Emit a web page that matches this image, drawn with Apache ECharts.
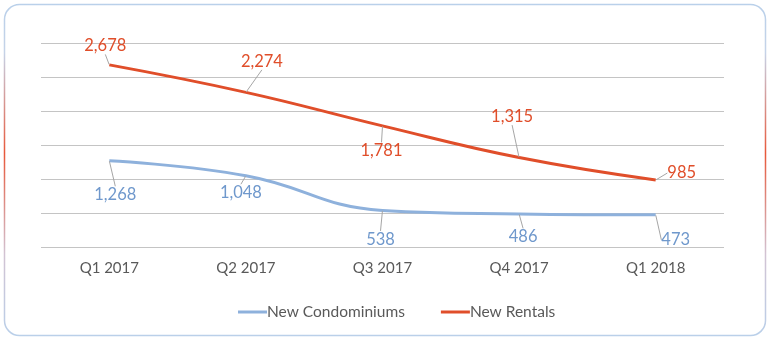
<!DOCTYPE html>
<html>
<head>
<meta charset="utf-8">
<script src="https://cdn.jsdelivr.net/npm/echarts@6/dist/echarts.min.js"></script>
<style>
html,body{margin:0;padding:0;background:#fff;}
#chart{width:775px;height:346px;}
</style>
</head>
<body>
<div id="chart"></div>
<script>
var categories = ['Q1 2017', 'Q2 2017', 'Q3 2017', 'Q4 2017', 'Q1 2018'];
var condoValues = [1268, 1048, 538, 486, 473];
var rentalValues = [2678, 2274, 1781, 1315, 985];
var seriesNames = ['New Condominiums', 'New Rentals'];

// label offsets (dx, dy) from each point, per series
var condoLabelOffsets = [[6, 34], [-5, 17], [-2, 29], [4, 23], [20, 25]];
var rentalLabelOffsets = [[-4, -19], [16, -31], [-1, 25], [-7, -41], [26, -7]];

var RED = '#E04E2A';
var BLUE = '#8EB1DC';
var FONT = 'Lato, "Open Sans", sans-serif';

var chart = echarts.init(document.getElementById('chart'), null, {renderer: 'canvas'});

function makeSeries(name, data, color, labelColor, offsets) {
  return {
    name: name,
    type: 'line',
    data: data,
    smooth: 0.45,
    symbol: 'circle',
    symbolSize: 1,
    showSymbol: true,
    itemStyle: {color: 'rgba(0,0,0,0)'},
    lineStyle: {color: color, width: 3},
    emphasis: {disabled: true},
    label: {
      show: true,
      position: 'inside',
      color: labelColor,
      fontFamily: FONT,
      fontSize: 16.5,
      formatter: function (p) { return p.value.toLocaleString('en-US'); }
    },
    labelLine: {
      show: true,
      lineStyle: {color: '#a6a6a6', width: 1},
      length2: 0,
      smooth: false
    },
    labelLayout: function (p) {
      var o = offsets[p.dataIndex];
      return {dx: o[0], dy: o[1]};
    }
  };
}

chart.setOption({
  animation: false,
  backgroundColor: '#fff',
  graphic: [{
    type: 'rect',
    shape: {x: 4.5, y: 4.5, width: 761, height: 331, r: 15},
    style: {
      fill: 'none',
      lineWidth: 1.5,
      stroke: new echarts.graphic.LinearGradient(0, 0, 0, 1, [
        {offset: 0, color: '#b9d0ea'},
        {offset: 0.15, color: '#c5d3e8'},
        {offset: 0.45, color: '#e8583a'},
        {offset: 0.75, color: '#d2c3d3'},
        {offset: 1, color: '#b9d0ea'}
      ])
    },
    z: -1
  }],
  legend: {
    data: [
      {name: seriesNames[0], itemStyle: {color: BLUE}},
      {name: seriesNames[1], itemStyle: {color: RED}}
    ],
    left: 233,
    top: 299,
    itemWidth: 29,
    itemHeight: 3,
    itemGap: 36,
    textStyle: {color: '#595959', fontFamily: FONT, fontSize: 15.5, padding: [0, 0, 0, -5]},
    icon: 'rect'
  },
  grid: {left: 41, right: 51, top: 43, bottom: 99},
  xAxis: {
    type: 'category',
    data: categories,
    boundaryGap: true,
    axisLine: {show: false},
    axisTick: {show: false},
    axisLabel: {color: '#595959', fontFamily: FONT, fontSize: 15, margin: 14}
  },
  yAxis: {
    type: 'value',
    min: 0,
    max: 3000,
    interval: 500,
    axisLine: {show: false},
    axisTick: {show: false},
    axisLabel: {show: false},
    splitLine: {lineStyle: {color: '#c4c4c4', width: 1.2}}
  },
  series: [
    makeSeries(seriesNames[0], condoValues, BLUE, '#6f98cc', condoLabelOffsets),
    makeSeries(seriesNames[1], rentalValues, RED, RED, rentalLabelOffsets)
  ]
});
</script>
</body>
</html>
